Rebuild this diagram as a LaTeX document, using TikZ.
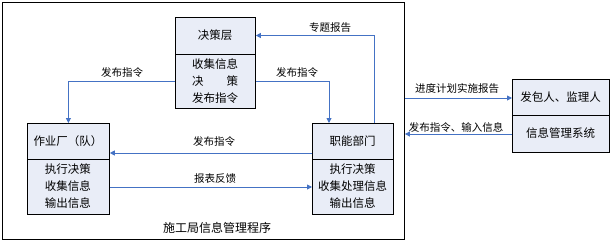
\documentclass[tikz,border=0pt]{standalone}
\usepackage{fontspec}
\setmainfont{Noto Sans CJK SC}
\usetikzlibrary{arrows.meta,calc}
\definecolor{boxfill}{RGB}{233,237,247}
\definecolor{arrblue}{RGB}{68,114,196}
\tikzset{
  box/.style={draw=black, line width=0.8pt, fill=boxfill, inner sep=0pt, anchor=north west},
  arr/.style={draw=arrblue, line width=0.9pt, -{Triangle[length=5pt,width=5pt]}},
  txt/.style={font=\fontsize{11.5}{17}\selectfont, align=center, inner sep=0pt},
  lbl/.style={font=\fontsize{10.5}{12}\selectfont, inner sep=0pt},
}
\begin{document}
\begin{tikzpicture}[x=1pt,y=-1pt]
\useasboundingbox (0,0) rectangle (611,242);
% outer frame
\node[draw=black, line width=0.9pt, minimum width=402pt, minimum height=237pt, inner sep=0pt, anchor=north west] (frame) at (2,2) {};
% decision box
\node[box, minimum width=80pt, minimum height=91pt] (dec) at (175,17) {};
\draw[line width=0.8pt] ([yshift=-37pt]dec.north west) -- ([yshift=-37pt]dec.north east);
\node[txt] (dect) at (215,35.5) {决策层};
\node[txt] (decb) at (215,81) {收集信息\\\makebox[4em][s]{决\hfill 策}\\发布指令};
% operation box
\node[box, minimum width=82pt, minimum height=91pt] (op) at (27,123) {};
\draw[line width=0.8pt] ([yshift=-36pt]op.north west) -- ([yshift=-36pt]op.north east);
\node[txt] (opt) at (68,141) {作业厂（队）};
\node[txt] (opb) at (68,186.5) {执行决策\\收集信息\\输出信息};
% functional box
\node[box, minimum width=81pt, minimum height=91pt] (fn) at (312,123) {};
\draw[line width=0.8pt] ([yshift=-36pt]fn.north west) -- ([yshift=-36pt]fn.north east);
\node[txt] (fnt) at (352.5,141) {职能部门};
\node[txt] (fnb) at (352.5,186.5) {执行决策\\收集处理信息\\输出信息};
% right box
\node[box, minimum width=97pt, minimum height=73pt] (rb) at (512,79) {};
\draw[line width=0.8pt] ([yshift=-36pt]rb.north west) -- ([yshift=-36pt]rb.north east);
\node[txt] (rbt) at (560.5,97) {发包人、监理人};
\node[txt] (rbb) at (560.5,133.5) {信息管理系统};
% helper coordinates
\coordinate (ym) at (0,153);
\coordinate (yb) at (0,187);
\coordinate (yr1) at (0,98);
\coordinate (yr2) at (0,134);
\coordinate (xd) at (329,0);
\coordinate (xr) at (374,0);
% connectors
\draw[arr] (dec.west |- decb) -| (op.north);
\draw[arr] (dec.east |- decb) -| (xd |- fn.north);
\draw[arr] (xr |- fn.north) |- (dec.east |- dect);
\draw[arr] (fn.west |- ym) -- (op.east |- ym);
\draw[arr] (op.east |- yb) -- (fn.west |- yb);
\draw[arr] (frame.east |- yr1) -- (rb.west |- yr1);
\draw[arr] (rb.west |- yr2) -- (frame.east |- yr2);
% labels
\node[lbl] (l1) at (122,73) {发布指令};
\node[lbl] (l2) at (297,73) {发布指令};
\node[lbl] (l3) at (330,28) {专题报告};
\node[lbl] (l4) at (214,142) {发布指令};
\node[lbl] (l5) at (215,179) {报表反馈};
\node[lbl] (l6) at (457,89) {进度计划实施报告};
\node[lbl] (l7) at (456,127) {发布指令、输入信息};
\node[font=\fontsize{12}{14}\selectfont, inner sep=0pt] (title) at (217,228) {施工局信息管理程序};
\end{tikzpicture}
\end{document}
